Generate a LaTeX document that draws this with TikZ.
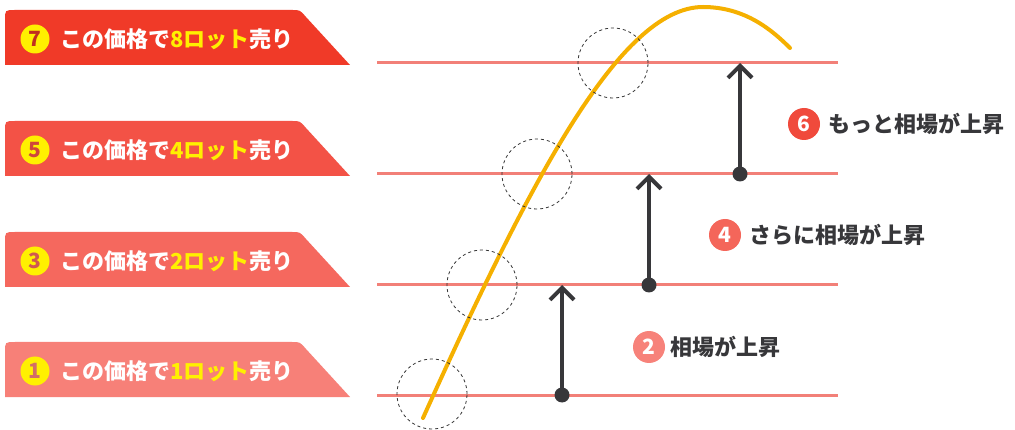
\documentclass[tikz,border=0pt]{standalone}
\usepackage{fontspec}
\newfontfamily\jp{Noto Sans CJK JP}
\usetikzlibrary{arrows.meta}
\definecolor{ligne}{RGB}{242,128,120}
\definecolor{courbejaune}{RGB}{245,176,0}
\definecolor{fonce}{RGB}{55,55,58}
\definecolor{jaune}{RGB}{255,240,0}
\definecolor{rouge7}{RGB}{240,58,40}
\definecolor{rouge5}{RGB}{243,82,70}
\definecolor{rouge3}{RGB}{245,104,94}
\definecolor{rouge1}{RGB}{247,128,120}
\definecolor{rond6}{RGB}{240,74,60}
\definecolor{rond4}{RGB}{244,102,90}
\definecolor{rond2}{RGB}{247,130,122}
\tikzset{
  ligneprix/.style={draw=ligne, line width=3pt},
  courbe/.style={draw=courbejaune, line width=4pt, line cap=round},
  cerclezone/.style={draw=black!80, line width=0.8pt, dash pattern=on 3pt off 3pt},
  fleche/.style={draw=fonce, line width=4pt, -{Straight Barb[length=12pt,width=24pt]}},
  depart/.style={circle, fill=fonce, minimum size=15pt, inner sep=0pt},
  badge/.style={circle, fill=jaune, minimum size=29pt, inner sep=0pt, font=\jp\bfseries\fontsize{21}{21}\selectfont},
  rond/.style={circle, minimum size=32pt, inner sep=0pt, text=white, font=\jp\bfseries\fontsize{21}{21}\selectfont},
  bandeautexte/.style={anchor=west, inner sep=0pt, text=white, font=\jp\bfseries\fontsize{22}{22}\selectfont},
  hausse/.style={anchor=west, inner sep=0pt, text=fonce, font=\jp\bfseries\fontsize{22}{22}\selectfont},
}
\begin{document}
\begin{tikzpicture}[x=1pt,y=-1pt]% ------ Vente par paliers ----------------
    \useasboundingbox (0,0) rectangle (1015,430);
    % bandeaux
    \fill [rouge7] (5,65) -- (5,20) .. controls (5,10) .. (15,10) -- (292,10) .. controls (300,10) .. (306,17) -- (350,65) -- cycle;
    \fill [rouge5] (5,176) -- (5,131) .. controls (5,121) .. (15,121) -- (292,121) .. controls (300,121) .. (306,128) -- (350,176) -- cycle;
    \fill [rouge3] (5,287) -- (5,242) .. controls (5,232) .. (15,232) -- (292,232) .. controls (300,232) .. (306,239) -- (350,287) -- cycle;
    \fill [rouge1] (5,397) -- (5,352) .. controls (5,342) .. (15,342) -- (292,342) .. controls (300,342) .. (306,349) -- (350,397) -- cycle;
    \node [badge, text=rouge7!80!black] (b7) at (35,39) {7};
    \node [badge, text=rouge5!85!black] (b5) at (35,150) {5};
    \node [badge, text=rouge3!85!black] (b3) at (35,261) {3};
    \node [badge, text=rouge1!85!black] (b1) at (35,371) {1};
    \node [bandeautexte] (t7) at (60,39) {この価格で\textcolor{jaune}{8ロット}売り};
    \node [bandeautexte] (t5) at (60,150) {この価格で\textcolor{jaune}{4ロット}売り};
    \node [bandeautexte] (t3) at (60,261) {この価格で\textcolor{jaune}{2ロット}売り};
    \node [bandeautexte] (t1) at (60,371) {この価格で\textcolor{jaune}{1ロット}売り};
    % lignes de prix
    \draw [ligneprix] (377,63) -- (838,63);
    \draw [ligneprix] (377,174) -- (838,174);
    \draw [ligneprix] (377,285) -- (838,285);
    \draw [ligneprix] (377,395) -- (838,395);
    % courbe
    \draw [courbe] (423,418) .. controls (530,181) and (620,7) .. (703,7) .. controls (745,7) and (772,30) .. (790,48);
    \draw [cerclezone] (432,394) circle [radius=35pt];
    \draw [cerclezone] (482,285) circle [radius=35pt];
    \draw [cerclezone] (537,174) circle [radius=35pt];
    \draw [cerclezone] (613,63) circle [radius=35pt];
    % hausses
    \node [depart] (d2) at (562,395) {};
    \node [depart] (d4) at (649,285) {};
    \node [depart] (d6) at (740,174) {};
    \coordinate (h2) at (562,285);
    \coordinate (h4) at (649,174);
    \coordinate (h6) at (740,63);
    \draw [fleche] (d2.center) -- (h2);
    \draw [fleche] (d4.center) -- (h4);
    \draw [fleche] (d6.center) -- (h6);
    \node [rond, fill=rond6] (r6) at (804,124) {6};
    \node [rond, fill=rond4] (r4) at (725,235) {4};
    \node [rond, fill=rond2] (r2) at (649,347) {2};
    \node [hausse] (l6) at (828,124) {もっと相場が上昇};
    \node [hausse] (l4) at (749,235) {さらに相場が上昇};
    \node [hausse] (l2) at (670,347) {相場が上昇};
\end{tikzpicture}
\end{document}
